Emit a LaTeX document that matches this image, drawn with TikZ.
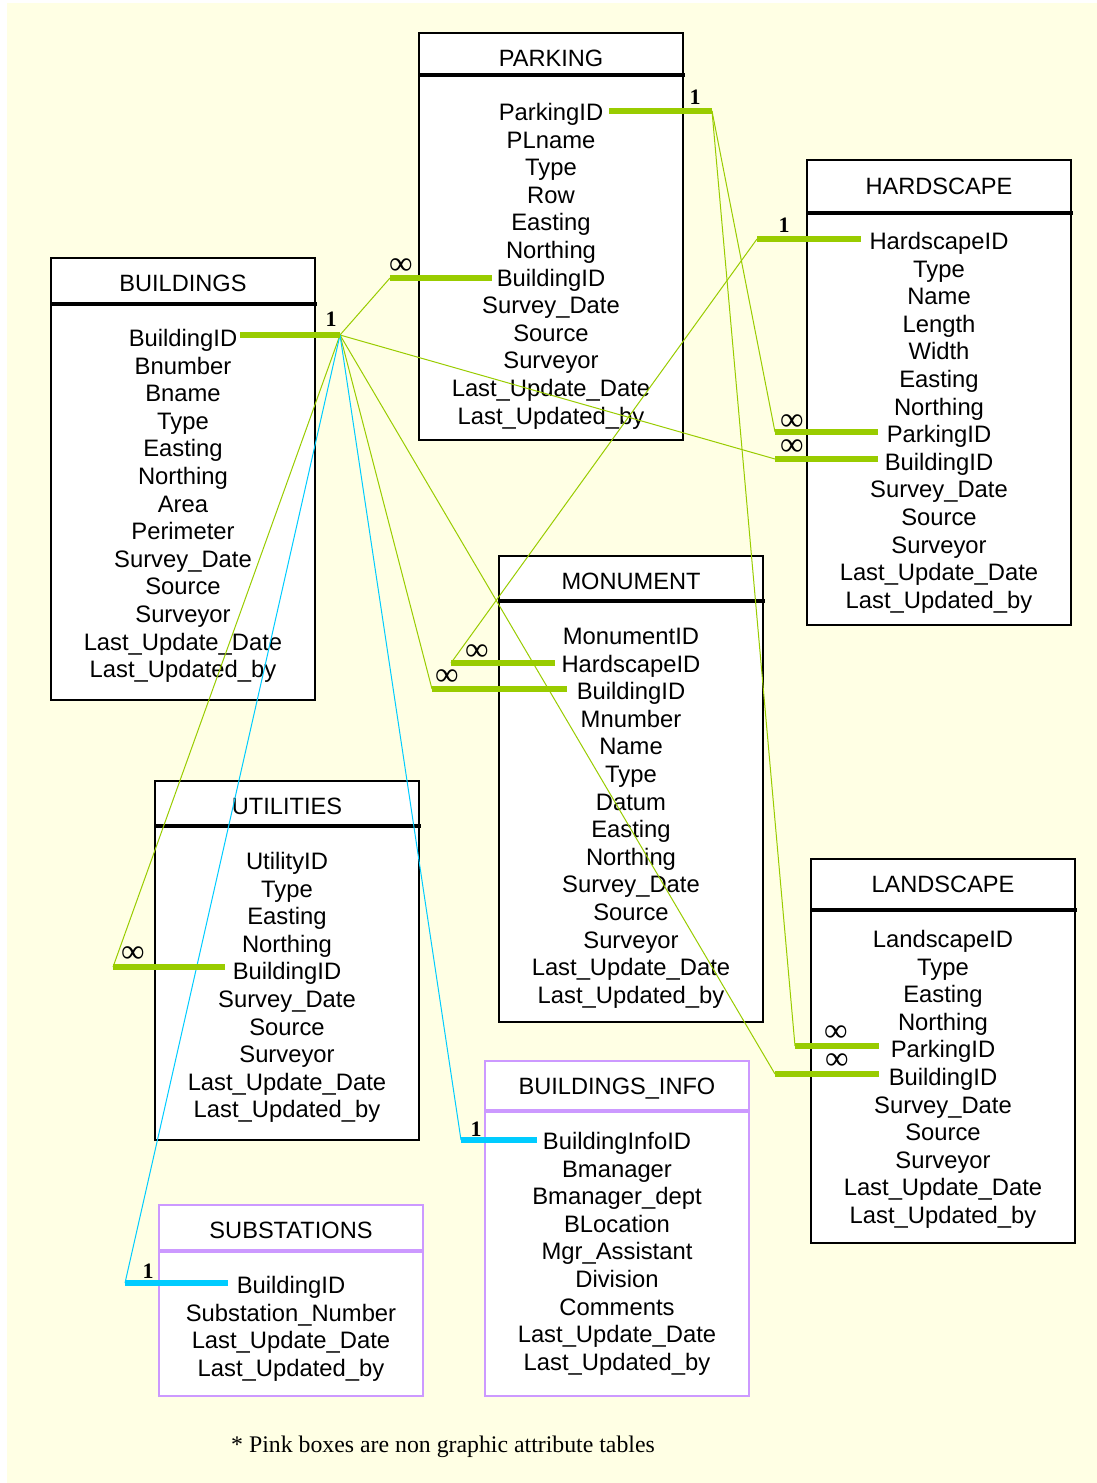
\documentclass[tikz,border=0pt]{standalone}
\usepackage{fontspec}
\setmainfont{Liberation Serif}
\setsansfont{Liberation Sans}
\definecolor{bgyellow}{HTML}{FFFFE4}
\definecolor{relgreen}{HTML}{99CC00}
\definecolor{relcyan}{HTML}{00CCFF}
\definecolor{attrpurple}{HTML}{CC99FF}

\begin{document}
\begin{tikzpicture}[x=0.5pt, y=-0.5pt,
  tbl/.style={draw=black, line width=1pt, fill=white},
  atbl/.style={draw=attrpurple, line width=1pt, fill=white},
  hdr/.style={line width=1.8pt},
  ttl/.style={anchor=base, inner sep=0pt, font=\sffamily\fontsize{11.8}{14}\selectfont},
  fld/.style={anchor=base, inner sep=0pt, font=\sffamily\fontsize{11.9}{14}\selectfont},
  gbar/.style={relgreen, line width=2.6pt},
  cbar/.style={relcyan, line width=2.6pt},
  glink/.style={relgreen, line width=0.5pt},
  clink/.style={relcyan, line width=0.5pt},
  one/.style={inner sep=0pt, font=\bfseries\fontsize{11}{13}\selectfont},
  many/.style={inner sep=0pt, text height=8.2pt, text depth=0pt, font=\fontsize{16.5}{18}\selectfont}]
\useasboundingbox (0,0) rectangle (1097,1483);
\fill [bgyellow] (7,3) rectangle (1097,1483);

% tables
\draw [tbl] (419,33) rectangle (683,440);
\draw [hdr] (419,75) -- (685,75);
\node [ttl] (parking) at (551,66.5) {PARKING};
\foreach \f [count=\i from 0] in {ParkingID, PLname, Type, Row, Easting, Northing, BuildingID, Survey\_Date, Source, Surveyor, Last\_Update\_Date, Last\_Updated\_by}
  \node [fld] (parking-\i) at (551,{120.5+27.6*\i}) {\f};

\draw [tbl] (807,160) rectangle (1071,625);
\draw [hdr] (807,213) -- (1073,213);
\node [ttl] (hardscape) at (939,194.5) {HARDSCAPE};
\foreach \f [count=\i from 0] in {HardscapeID, Type, Name, Length, Width, Easting, Northing, ParkingID, BuildingID, Survey\_Date, Source, Surveyor, Last\_Update\_Date, Last\_Updated\_by}
  \node [fld] (hardscape-\i) at (939,{249.5+27.6*\i}) {\f};

\draw [tbl] (51,258) rectangle (315,700);
\draw [hdr] (51,304) -- (317,304);
\node [ttl] (buildings) at (183,291.5) {BUILDINGS};
\foreach \f [count=\i from 0] in {BuildingID, Bnumber, Bname, Type, Easting, Northing, Area, Perimeter, Survey\_Date, Source, Surveyor, Last\_Update\_Date, Last\_Updated\_by}
  \node [fld] (buildings-\i) at (183,{346.5+27.6*\i}) {\f};

\draw [tbl] (499,556) rectangle (763,1022);
\draw [hdr] (499,601) -- (765,601);
\node [ttl] (monument) at (631,589.5) {MONUMENT};
\foreach \f [count=\i from 0] in {MonumentID, HardscapeID, BuildingID, Mnumber, Name, Type, Datum, Easting, Northing, Survey\_Date, Source, Surveyor, Last\_Update\_Date, Last\_Updated\_by}
  \node [fld] (monument-\i) at (631,{644.5+27.6*\i}) {\f};

\draw [tbl] (155,781) rectangle (419,1140);
\draw [hdr] (155,826) -- (421,826);
\node [ttl] (utilities) at (287,814.5) {UTILITIES};
\foreach \f [count=\i from 0] in {UtilityID, Type, Easting, Northing, BuildingID, Survey\_Date, Source, Surveyor, Last\_Update\_Date, Last\_Updated\_by}
  \node [fld] (utilities-\i) at (287,{869.5+27.6*\i}) {\f};

\draw [tbl] (811,859) rectangle (1075,1243);
\draw [hdr] (811,910) -- (1077,910);
\node [ttl] (landscape) at (943,892.5) {LANDSCAPE};
\foreach \f [count=\i from 0] in {LandscapeID, Type, Easting, Northing, ParkingID, BuildingID, Survey\_Date, Source, Surveyor, Last\_Update\_Date, Last\_Updated\_by}
  \node [fld] (landscape-\i) at (943,{947.5+27.6*\i}) {\f};

\draw [atbl] (485,1061) rectangle (749,1396);
\draw [hdr, attrpurple] (485,1111) -- (749,1111);
\node [ttl] (binfo) at (617,1094.5) {BUILDINGS\_INFO};
\foreach \f [count=\i from 0] in {BuildingInfoID, Bmanager, Bmanager\_dept, BLocation, Mgr\_Assistant, Division, Comments, Last\_Update\_Date, Last\_Updated\_by}
  \node [fld] (binfo-\i) at (617,{1149.5+27.6*\i}) {\f};

\draw [atbl] (159,1205) rectangle (423,1396);
\draw [hdr, attrpurple] (159,1251) -- (423,1251);
\node [ttl] (subst) at (291,1238.5) {SUBSTATIONS};
\foreach \f [count=\i from 0] in {BuildingID, Substation\_Number, Last\_Update\_Date, Last\_Updated\_by}
  \node [fld] (subst-\i) at (291,{1293.5+27.6*\i}) {\f};

% key bars
\coordinate (bld-key) at (240,335);   \coordinate (bld-hub) at (340,335);
\coordinate (park-key) at (609,111);  \coordinate (park-hub) at (712,111);
\coordinate (hard-key) at (861,239);  \coordinate (hard-hub) at (757,239);
\coordinate (park-bld) at (390,278);  \coordinate (park-bldE) at (492,278);
\coordinate (hard-park) at (775,432); \coordinate (hard-parkE) at (878,432);
\coordinate (hard-bld) at (775,459);  \coordinate (hard-bldE) at (878,459);
\coordinate (mon-hard) at (451,663);  \coordinate (mon-hardE) at (555,663);
\coordinate (mon-bld) at (432,689);   \coordinate (mon-bldE) at (567,689);
\coordinate (util-bld) at (113,967);  \coordinate (util-bldE) at (225,967);
\coordinate (land-park) at (795,1046); \coordinate (land-parkE) at (879,1046);
\coordinate (land-bld) at (775,1074); \coordinate (land-bldE) at (879,1074);
\coordinate (binfo-key) at (461,1140); \coordinate (binfo-keyE) at (537,1140);
\coordinate (subst-key) at (125,1283); \coordinate (subst-keyE) at (228,1283);

% relationships
\draw [glink] (bld-hub) -- (park-bld);
\draw [glink] (bld-hub) -- (hard-bld);
\draw [glink] (bld-hub) -- (mon-bld);
\draw [glink] (bld-hub) -- (land-bld);
\draw [glink] (bld-hub) -- (util-bld);
\draw [clink] (bld-hub) -- (binfo-key);
\draw [clink] (bld-hub) -- (subst-key);
\draw [glink] (park-hub) -- (hard-park);
\draw [glink] (park-hub) -- (land-park);
\draw [glink] (hard-hub) -- (mon-hard);

\draw [gbar] (bld-key) -- (bld-hub);
\draw [gbar] (park-key) -- (park-hub);
\draw [gbar] (hard-hub) -- (hard-key);
\draw [gbar] (park-bld) -- (park-bldE);
\draw [gbar] (hard-park) -- (hard-parkE);
\draw [gbar] (hard-bld) -- (hard-bldE);
\draw [gbar] (mon-hard) -- (mon-hardE);
\draw [gbar] (mon-bld) -- (mon-bldE);
\draw [gbar] (util-bld) -- (util-bldE);
\draw [gbar] (land-park) -- (land-parkE);
\draw [gbar] (land-bld) -- (land-bldE);
\draw [cbar] (binfo-key) -- (binfo-keyE);
\draw [cbar] (subst-key) -- (subst-keyE);

% cardinalities
\node [one] (bld-one) at (331,319) {1};
\node [one] (park-one) at (695,97) {1};
\node [one] (hard-one) at (784,225) {1};
\node [one] (binfo-one) at (476,1129) {1};
\node [one] (subst-one) at (148,1271) {1};
\node [many] (park-many) at (401,266) {∞};
\node [many] (hard-many1) at (792,422) {∞};
\node [many] (hard-many2) at (792,447) {∞};
\node [many] (mon-many1) at (477,652) {∞};
\node [many] (mon-many2) at (447,677) {∞};
\node [many] (util-many) at (133,954) {∞};
\node [many] (land-many1) at (836,1033) {∞};
\node [many] (land-many2) at (837,1061) {∞};

\node [font=\fontsize{11.9}{14}\selectfont] (note) at (443,1447) {* Pink boxes are non graphic attribute tables};
\end{tikzpicture}
\end{document}
